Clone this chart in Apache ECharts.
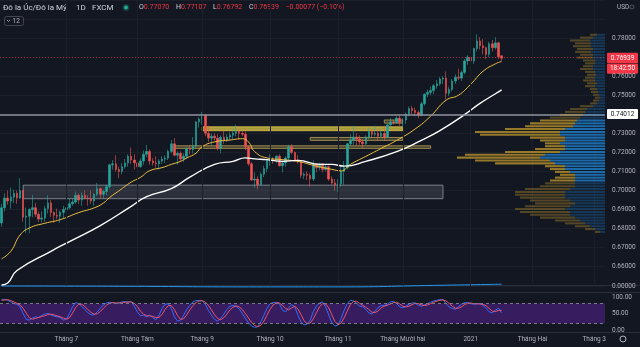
<!DOCTYPE html>
<html><head><meta charset="utf-8">
<script src="https://cdn.jsdelivr.net/npm/echarts@6/dist/echarts.min.js"></script>
<style>html,body{margin:0;padding:0;background:#131722;overflow:hidden}#c{width:640px;height:347px}</style>
</head><body><div id="c"></div>
<script>
// ---------------- DATA ----------------
const firstDay = '2020-06-02';
const barCount = 196;               // visible slots incl. future space
const holidays = ['2020-12-25', '2021-01-01'];
const tickMonths = ['2020-07','2020-08','2020-09','2020-10','2020-11','2020-12','2021-01','2021-02','2021-03'];
const tickLabels = ['Tháng 7','Tháng Tám','Tháng 9','Tháng 10','Tháng 11','Tháng Mười hai','2021','Tháng Hai','Tháng 3'];
const priceTicks = [0.66,0.67,0.68,0.69,0.70,0.71,0.72,0.73,0.75,0.76,0.78];
const stochTicks = [0,50,100];

const opens = [0.6830,0.6910,0.6960,0.6945,0.6965,0.6985,0.6960,0.7000,0.6860,0.6865,0.6900,0.6910,0.6875,0.6850,0.6855,0.6905,0.6935,0.6885,0.6870,0.6865,0.6885,
0.6900,0.6910,0.6930,0.6940,0.6975,0.6950,0.6975,0.6960,0.6955,0.6945,0.6980,0.7010,0.6980,0.6995,0.7020,0.7135,0.7140,0.7110,0.7100,0.7125,0.7145,0.7180,0.7160,
0.7145,0.7125,0.7155,0.7190,0.7205,0.7155,0.7145,0.7140,0.7155,0.7165,0.7170,0.7205,0.7245,0.7185,0.7195,0.7165,0.7180,0.7220,0.7215,0.7235,0.7360,
0.7375,0.7395,0.7300,0.7275,0.7285,0.7275,0.7220,0.7280,0.7260,0.7280,0.7290,0.7300,0.7310,0.7300,0.7295,0.7230,0.7140,0.7055,0.7060,0.7030,0.7085,0.7115,
0.7160,0.7165,0.7160,0.7180,0.7130,0.7145,0.7170,0.7230,0.7200,0.7160,0.7150,0.7080,0.7085,0.7080,0.7060,0.7140,0.7120,0.7140,0.7110,0.7125,0.7060,0.7040,
0.7030,0.7035,0.7100,0.7120,0.7245,0.7265,0.7280,0.7270,0.7255,0.7245,0.7280,0.7310,0.7295,0.7300,0.7285,0.7300,0.7280,0.7345,0.7360,0.7355,0.7380,
0.7355,0.7370,0.7400,0.7430,0.7420,0.7410,0.7395,0.7455,0.7505,0.7515,0.7525,0.7550,0.7560,0.7585,0.7590,0.7510,0.7530,0.7575,0.7595,0.7590,0.7620,0.7680,
0.7700,0.7680,0.7745,0.7785,0.7760,0.7750,0.7715,0.7770,0.7750,0.7775,0.77070];
const highs = [0.6930,0.6985,0.7000,0.7015,0.7005,0.7000,0.7064,0.7000,0.6910,0.6905,0.6976,0.6935,0.6890,0.6890,0.6920,0.6975,0.6950,0.6890,0.6905,0.6895,0.6920,
0.6935,0.6960,0.6955,0.6995,0.6985,0.6990,0.7000,0.6975,0.7000,0.6985,0.7040,0.7015,0.7005,0.7030,0.7140,0.7160,0.7185,0.7125,0.7145,0.7165,0.7190,0.7225,0.7190,
0.7165,0.7170,0.7210,0.7240,0.7215,0.7170,0.7180,0.7165,0.7180,0.7185,0.7215,0.7265,0.7275,0.7205,0.7205,0.7195,0.7230,0.7240,0.7280,0.7365,0.7385,
0.7413,0.7400,0.7340,0.7300,0.7300,0.7295,0.7290,0.7315,0.7295,0.7305,0.7320,0.7345,0.7320,0.7315,0.7310,0.7235,0.7150,0.7095,0.7075,0.7095,0.7130,0.7165,
0.7190,0.7175,0.7185,0.7190,0.7160,0.7180,0.7240,0.7243,0.7205,0.7185,0.7160,0.7095,0.7100,0.7090,0.7158,0.7145,0.7145,0.7145,0.7135,0.7130,0.7075,0.7060,
0.7060,0.7125,0.7155,0.7250,0.7295,0.7340,0.7300,0.7290,0.7270,0.7290,0.7330,0.7320,0.7340,0.7320,0.7320,0.7340,0.7350,0.7380,0.7370,0.7390,0.7395,
0.7380,0.7410,0.7440,0.7445,0.7435,0.7420,0.7465,0.7510,0.7530,0.7545,0.7560,0.7580,0.7595,0.7600,0.7625,0.7545,0.7585,0.7610,0.7640,0.7630,0.7690,0.7710,
0.7745,0.7750,0.7820,0.7805,0.7795,0.7755,0.7780,0.7790,0.7805,0.7780,0.77107];
const lows = [0.6810,0.6890,0.6925,0.6905,0.6935,0.6930,0.6955,0.6835,0.6778,0.6776,0.6860,0.6860,0.6835,0.6833,0.6835,0.6880,0.6860,0.6830,0.6850,0.6830,0.6855,
0.6875,0.6900,0.6920,0.6930,0.6930,0.6920,0.6955,0.6920,0.6930,0.6920,0.6970,0.6960,0.6960,0.6975,0.7010,0.7110,0.7100,0.7065,0.7085,0.7115,0.7125,0.7140,0.7110,
0.7110,0.7120,0.7135,0.7175,0.7135,0.7130,0.7120,0.7110,0.7140,0.7145,0.7160,0.7195,0.7180,0.7135,0.7150,0.7150,0.7165,0.7190,0.7195,0.7225,0.7330,
0.7345,0.7285,0.7255,0.7240,0.7260,0.7210,0.7195,0.7245,0.7255,0.7265,0.7270,0.7285,0.7265,0.7285,0.7210,0.7130,0.7050,0.7015,0.7006,0.7025,0.7070,0.7095,
0.7130,0.7140,0.7145,0.7125,0.7095,0.7125,0.7160,0.7190,0.7150,0.7140,0.7065,0.7060,0.7055,0.7020,0.7050,0.7095,0.7105,0.7095,0.7100,0.7050,0.7030,0.7000,
0.6991,0.7020,0.7030,0.7110,0.7235,0.7240,0.7235,0.7240,0.7220,0.7240,0.7270,0.7280,0.7285,0.7265,0.7280,0.7260,0.7275,0.7335,0.7345,0.7350,0.7340,
0.7330,0.7350,0.7390,0.7400,0.7390,0.7380,0.7390,0.7445,0.7490,0.7500,0.7505,0.7535,0.7550,0.7560,0.7478,0.7495,0.7520,0.7560,0.7580,0.7575,0.7610,0.7660,
0.7640,0.7665,0.7730,0.7740,0.7715,0.7690,0.7700,0.7730,0.7740,0.7690,0.76792];
const closes = [0.6910,0.6960,0.6945,0.6965,0.6985,0.6960,0.7000,0.6860,0.6865,0.6900,0.6910,0.6875,0.6850,0.6855,0.6905,0.6935,0.6885,0.6870,0.6865,0.6885,0.6900,
0.6910,0.6930,0.6940,0.6975,0.6950,0.6975,0.6960,0.6955,0.6945,0.6980,0.7010,0.6980,0.6995,0.7020,0.7135,0.7140,0.7110,0.7100,0.7125,0.7145,0.7180,0.7160,0.7145,
0.7125,0.7155,0.7190,0.7205,0.7155,0.7145,0.7140,0.7155,0.7165,0.7170,0.7205,0.7245,0.7185,0.7195,0.7165,0.7180,0.7220,0.7215,0.7235,0.7360,0.7375,
0.7395,0.7300,0.7275,0.7285,0.7275,0.7220,0.7280,0.7260,0.7280,0.7290,0.7300,0.7310,0.7300,0.7295,0.7230,0.7140,0.7055,0.7060,0.7030,0.7085,0.7115,0.7160,
0.7165,0.7160,0.7180,0.7130,0.7145,0.7170,0.7230,0.7200,0.7160,0.7150,0.7080,0.7085,0.7080,0.7060,0.7140,0.7120,0.7140,0.7110,0.7125,0.7060,0.7040,0.7030,
0.7035,0.7100,0.7120,0.7245,0.7265,0.7280,0.7270,0.7255,0.7245,0.7280,0.7310,0.7295,0.7300,0.7285,0.7300,0.7280,0.7345,0.7360,0.7355,0.7380,0.7355,
0.7370,0.7400,0.7430,0.7420,0.7410,0.7395,0.7455,0.7505,0.7515,0.7525,0.7550,0.7560,0.7585,0.7590,0.7510,0.7530,0.7575,0.7595,0.7590,0.7620,0.7680,0.7700,
0.7680,0.7745,0.7785,0.7760,0.7750,0.7715,0.7770,0.7750,0.7775,0.77016,0.76939];

// moving averages: [bar index, value]
const maFast = [[0,0.6641],[3,0.6681],[6,0.6766],[9,0.6803],[14,0.6828],[19,0.6847],[25,0.6884],[30,0.6909],[33,0.6934],[35,0.6963],[38,0.6998],[42,0.7044],[45,0.7069],[48,0.7104],[52,0.7120],[55,0.7137],[58,0.7153],[60,0.7171],[63,0.7196],[65,0.7230],[69,0.7255],[74,0.7265],[78,0.7272],[80,0.7255],[82,0.7204],[86,0.7171],[91,0.7162],[96,0.7153],[102,0.7128],[107,0.7111],[110,0.7103],[113,0.7137],[118,0.7179],[123,0.7221],[128,0.7263],[134,0.7323],[139,0.7390],[144,0.7474],[148,0.7500],[152,0.7558],[156,0.7626],[160,0.7665],[162,0.7677]];
const maSlow = [[0,0.6504],[2,0.6514],[5,0.6580],[16,0.6681],[22,0.6732],[32,0.6816],[42,0.6917],[47,0.6968],[55,0.7010],[61,0.7070],[69,0.7137],[75,0.7153],[79,0.7171],[82,0.7166],[86,0.7162],[91,0.7153],[96,0.7158],[103,0.7137],[107,0.7137],[111,0.7128],[118,0.7153],[128,0.7204],[136,0.7263],[142,0.7314],[150,0.7398],[155,0.7457],[160,0.7508],[162,0.7528]];

// zones: [startBar, endBar, lowPrice, highPrice]
const grayZone = [7, 143, 0.6957, 0.7028];
const yellowZones = [[65,130,0.7314,0.7334],[56,139,0.72213,0.72344],[100,130,0.72633,0.72785],[124,130,0.7354,0.7370]];
const levelLine = 0.74012;

// volume profile rows: bottom price, up volume, down volume, value area flag
const vpRowBottom = [0.6775,0.6790,0.6805,0.6820,0.6835,0.6850,0.6865,0.6880,0.6895,0.6910,0.6925,0.6940,0.6955,0.6970,0.6985,0.7000,0.7015,0.7030,0.7045,0.7060,0.7075,0.7090,0.7105,0.7120,0.7135,0.7150,0.7165,0.7180,0.7195,0.7210,0.7225,0.7240,0.7255,0.7270,0.7285,0.7300,0.7315,0.7330,0.7345,0.7360,0.7375,0.7390,0.7405,0.7420,0.7435,0.7450,0.7465,0.7480,0.7495,0.7510,0.7525,0.7540,0.7555,0.7570,0.7585,0.7600,0.7615,0.7630,0.7645,0.7660,0.7675,0.7690,0.7705,0.7720,0.7735,0.7750,0.7765,0.7780,0.7795,0.7810];
const vpUp   = [5,10,15,20,25,30,35,35,40,35,30,35,40,40,40,35,30,30,30,30,30,35,40,40,50,55,65,60,45,40,40,45,40,40,45,45,40,32,30,28,25,22,20,18,12,8,6,5,6,7,8,10,8,10,10,9,10,12,12,10,10,12,12,14,12,14,14,15,12,8];
const vpDown = [5,10,15,20,25,35,40,50,50,45,40,40,45,50,50,45,35,30,25,20,15,15,15,20,60,75,83,80,55,30,20,15,25,35,80,85,60,48,45,37,30,23,20,17,13,7,6,5,6,7,7,10,10,12,10,9,10,13,10,10,12,16,13,16,16,18,16,20,13,7];
const vpValueArea = [0,0,0,0,0,0,0,0,0,0,0,0,0,0,0,0,0,0,1,1,1,1,1,1,1,1,1,1,1,1,1,1,1,1,1,1,1,1,1,1,0,0,0,0,0,0,0,0,0,0,0,0,0,0,0,0,0,0,0,0,0,0,0,0,0,0,0,0,0,0];

const volMA = [[0,0],[40,-0.1],[80,-0.3],[110,-0.3],[140,0.2],[162,0.6]];

const stochK = [92,93,90,85,80,78,70,50,32,30,36,40,38,44,48,50,46,42,40,38,30,32,50,70,83,80,72,62,52,46,46,55,66,76,82,84,83,80,82,85,86,84,86,72,55,43,45,40,45,38,31,45,65,78,80,65,40,27,30,45,62,75,85,89,89,88,78,60,45,32,27,35,48,62,72,74,72,64,50,35,22,12,8,10,25,45,65,80,83,84,80,60,55,68,77,70,45,25,15,18,30,55,72,82,85,70,45,22,12,15,35,60,80,90,88,82,72,72,62,52,48,58,68,74,74,78,85,87,80,70,67,72,78,82,82,75,72,76,80,84,88,90,92,92,80,70,65,63,70,78,83,83,80,78,80,80,75,65,55,52,60,66,52];
const stochD = [90,91,92,89,85,81,76,66,51,37,33,35,38,41,43,47,48,46,43,40,36,33,37,51,68,78,78,71,62,53,48,49,56,66,75,81,83,82,82,82,84,85,85,81,71,57,48,43,43,41,38,38,47,63,74,74,62,44,32,34,46,61,74,83,88,89,85,75,61,46,35,31,37,48,61,69,73,70,62,50,36,23,14,10,14,27,45,63,76,82,82,75,65,61,67,72,64,47,28,19,21,34,52,70,80,79,67,46,26,16,21,37,58,77,86,87,81,75,69,62,54,53,58,67,72,75,79,83,84,79,72,70,72,77,81,80,76,74,76,80,84,87,90,91,88,81,72,66,66,70,77,81,82,80,79,79,78,73,65,57,56,59,59];

// ---------------- BUILD ----------------
function buildDates(){
  const out=[]; const d=new Date(firstDay+'T00:00:00Z');
  while(out.length<barCount){
    const wd=d.getUTCDay(); const s=d.toISOString().slice(0,10);
    if(wd!==0&&wd!==6&&holidays.indexOf(s)<0) out.push(s);
    d.setUTCDate(d.getUTCDate()+1);
  }
  return out;
}
const dates = buildDates();
const monthStart = {};
dates.forEach((s,i)=>{ if(i>0 && s.slice(0,7)!==dates[i-1].slice(0,7)){ const k=tickMonths.indexOf(s.slice(0,7)); if(k>=0) monthStart[i]=tickLabels[k]; }});
const monthIdx = Object.keys(monthStart).map(Number);
const ohlc = closes.map((c,i)=>[opens[i], c, lows[i], highs[i]]);
const vpData = vpRowBottom.map((p,i)=>[vpUp[i], p, vpDown[i], vpValueArea[i]]);
const rowH = 0.0015;

const FONT = 'Roboto, "Noto Sans", sans-serif';
const txt = '#b2b5be';
const gridLine = '#1b1f2a';
const up = '#26a69a', dn = '#ef5350';

const chart = echarts.init(document.getElementById('c'), null, {width:640, height:347});
const vLines = monthIdx.map(i=>({xAxis: dates[i]}));

const option = {
  animation:false,
  backgroundColor:'#131722',
  grid:[
    {left:0, right:35, top:-10.5, height:296.25},
    {left:0, right:35, top:283, height:6},
    {left:0, right:35, top:297, height:33},
    {left:0, right:35, top:-10.5, height:296.25}
  ],
  xAxis:[
    {type:'category', gridIndex:0, data:dates, boundaryGap:true, show:false},
    {type:'category', gridIndex:1, data:dates, boundaryGap:true, show:false},
    {type:'category', gridIndex:2, data:dates, boundaryGap:true,
      axisLine:{show:false}, axisTick:{show:false}, splitLine:{show:false},
      axisLabel:{color:txt, fontSize:6.5, fontFamily:FONT, margin:6,
        interval:(i)=>monthStart[i]!==undefined, formatter:(v,i)=>monthStart[i]||''}},
    {type:'value', gridIndex:3, inverse:true, min:0, max:605, show:false}
  ],
  yAxis:[
    {type:'value', gridIndex:0, position:'right', min:0.65, max:0.80, interval:0.01,
      axisLine:{show:false}, axisTick:{show:false},
      splitLine:{show:true, lineStyle:{color:gridLine, width:1}},
      axisLabel:{color:txt, fontSize:6.5, fontFamily:FONT, margin:7, showMinLabel:false, showMaxLabel:false,
        formatter:(v)=>{ const r=Math.round(v*100)/100; return priceTicks.some(t=>Math.abs(t-r)<1e-6)?r.toFixed(5):''; }}},
    {type:'value', gridIndex:1, position:'right', min:-1, max:1, interval:1,
      axisLine:{show:false}, axisTick:{show:false}, splitLine:{show:false},
      axisLabel:{color:txt, fontSize:6.5, fontFamily:FONT, margin:7, formatter:(v)=>v===0?'0.00000':''}},
    {type:'value', gridIndex:2, position:'right', min:0, max:100, interval:50,
      axisLine:{show:false}, axisTick:{show:false}, splitLine:{show:false},
      axisLabel:{color:txt, fontSize:6.5, fontFamily:FONT, margin:7, formatter:(v)=>stochTicks.indexOf(v)>=0?v.toFixed(2):''}},
    {type:'value', gridIndex:3, min:0.65, max:0.80, show:false}
  ],
  series:[
    {type:'candlestick', xAxisIndex:0, yAxisIndex:0, data:ohlc, barWidth:2, z:3,
      itemStyle:{color:up, color0:dn, borderColor:up, borderColor0:dn, borderWidth:0.6},
      markArea:{silent:true, z:2, data:[
        [{coord:[dates[grayZone[0]], grayZone[2]], itemStyle:{color:'rgba(120,123,134,0.25)', borderColor:'#7d818b', borderWidth:1}}, {coord:[dates[grayZone[1]], grayZone[3]]}],
        ...yellowZones.map((z,k)=>[{coord:[dates[z[0]], z[2]], itemStyle:{color: k===0?'rgba(196,178,62,0.85)':'rgba(150,135,70,0.35)', borderColor: k===0?'#c9b54a':'#9c8c4e', borderWidth:1}}, {coord:[dates[z[1]], z[3]]}])
      ]},
      markLine:{silent:true, symbol:['none','none'], label:{show:false}, animation:false, data:[
        ...vLines.map(v=>Object.assign({lineStyle:{color:gridLine, width:1, type:'solid'}}, v)),
        {yAxis:levelLine, lineStyle:{color:'#8f939c', width:1.6, type:'solid'}},
        {yAxis:closes[closes.length-1], lineStyle:{color:'#f23645', width:1, type:[1,2], opacity:0.6}}
      ]}
    },
    {type:'line', xAxisIndex:0, yAxisIndex:0, data:maFast, smooth:0.5, showSymbol:false, z:4,
      lineStyle:{color:'#f0c040', width:1}},
    {type:'line', xAxisIndex:0, yAxisIndex:0, data:maSlow, smooth:0.5, showSymbol:false, z:4,
      lineStyle:{color:'#ffffff', width:1.4}},
    {type:'custom', xAxisIndex:3, yAxisIndex:3, data:vpData, z:5, silent:true,
      renderItem:(params, api)=>{
        const u=api.value(0), p=api.value(1), d=api.value(2), va=api.value(3);
        const yb=api.coord([0,p])[1], yt=api.coord([0,p+rowH])[1];
        const xr=api.coord([0,p])[0], xu=api.coord([u,p])[0], xa=api.coord([u+d,p])[0];
        const h=Math.max(0.5,yb-yt-0.8);
        return {type:'group', children:[
          {type:'rect', shape:{x:xu, y:yt+0.4, width:xr-xu, height:h}, style:{fill: va? 'rgba(33,150,243,0.65)':'rgba(33,150,243,0.25)'}},
          {type:'rect', shape:{x:xa, y:yt+0.4, width:xu-xa, height:h}, style:{fill: va? 'rgba(230,180,45,0.62)':'rgba(230,180,45,0.3)'}}
        ]};
      }},
    {type:'line', xAxisIndex:1, yAxisIndex:1, data:volMA, smooth:true, showSymbol:false,
      lineStyle:{color:'#2196f3', width:1}},
    {type:'line', xAxisIndex:2, yAxisIndex:2, data:stochK, showSymbol:false, z:4,
      lineStyle:{color:'#2f6bff', width:1},
      markArea:{silent:true, data:[[{yAxis:20, itemStyle:{color:'rgba(110,40,190,0.4)'}},{yAxis:80}]]},
      markLine:{silent:true, symbol:['none','none'], label:{show:false}, data:[
        {yAxis:80, lineStyle:{color:'#787b86', type:[3,3], width:1}},
        {yAxis:20, lineStyle:{color:'#787b86', type:[3,3], width:1}}
      ]}},
    {type:'line', xAxisIndex:2, yAxisIndex:2, data:stochD, showSymbol:false, z:4,
      lineStyle:{color:'#e9546b', width:1}}
  ]
};
chart.setOption(option);

// labels on the price scale and header
const n = closes.length-1;
const yLast = chart.convertToPixel({yAxisIndex:0}, closes[n]);
const yLevel = chart.convertToPixel({yAxisIndex:0}, levelLine);
const f5 = v=>v.toFixed(5);
const chg = closes[n]-closes[n-1];
chart.setOption({graphic:[
  {type:'line', shape:{x1:0,y1:285.5,x2:640,y2:285.5}, style:{stroke:'#2a2e39', lineWidth:1}},
  {type:'line', shape:{x1:0,y1:292.5,x2:640,y2:292.5}, style:{stroke:'#2a2e39', lineWidth:1}},
  {type:'line', shape:{x1:0,y1:332.5,x2:640,y2:332.5}, style:{stroke:'#2a2e39', lineWidth:1}},
  {type:'rect', shape:{x:607, y:yLast-5.5, width:31, height:10.5, r:1}, style:{fill:'#f23645'}},
  {type:'text', x:622.5, y:yLast, style:{text:f5(closes[n]), fill:'#fff', font:'6.5px '+FONT, align:'center', verticalAlign:'middle'}},
  {type:'rect', shape:{x:607, y:yLast+5.5, width:31, height:10, r:1}, style:{fill:'#f23645'}},
  {type:'text', x:622.5, y:yLast+10.5, style:{text:'18:42:50', fill:'#fff', font:'6.5px '+FONT, align:'center', verticalAlign:'middle'}},
  {type:'rect', shape:{x:607, y:yLevel-5, width:31, height:10, r:1}, style:{fill:'#ffffff'}},
  {type:'text', x:622.5, y:yLevel, style:{text:f5(levelLine), fill:'#131722', font:'6.5px '+FONT, align:'center', verticalAlign:'middle'}},
  {type:'text', x:617, y:7, style:{text:'USD', fill:txt, font:'6.5px '+FONT, verticalAlign:'middle'}},
  {type:'circle', shape:{cx:632, cy:7, r:2}, style:{fill:'none', stroke:'#787b86', lineWidth:0.6}},
  {type:'text', x:3, y:7.5, style:{text:'Đô la Úc/Đô la Mỹ', fill:'#d1d4dc', font:'8px '+FONT, verticalAlign:'middle'}},
  {type:'text', x:76, y:7.5, style:{text:'1D', fill:'#d1d4dc', font:'8px '+FONT, verticalAlign:'middle'}},
  {type:'text', x:92, y:7.5, style:{text:'FXCM', fill:'#d1d4dc', font:'8px '+FONT, verticalAlign:'middle'}},
  {type:'circle', shape:{cx:126, cy:7.5, r:3.5}, style:{fill:'rgba(34,171,148,0.25)'}},
  {type:'circle', shape:{cx:126, cy:7.5, r:2}, style:{fill:'#22ab94'}},
  {type:'text', x:139, y:7.5, style:{
    text:'{l|O}{v|'+f5(opens[n])+'}  {l|H}{v|'+f5(highs[n])+'}  {l|L}{v|'+f5(lows[n])+'}  {l|C}{v|'+f5(closes[n])+'}  {v|'+(chg<0?'−':'+')+Math.abs(chg).toFixed(5)+' ('+(chg<0?'−':'+')+Math.abs(chg/closes[n-1]*100).toFixed(2)+'%)}',
    verticalAlign:'middle',
    rich:{l:{fill:'#d1d4dc', font:'7px '+FONT}, v:{fill:'#f23645', font:'7px '+FONT}}}},
  {type:'rect', shape:{x:4.5, y:16.5, width:19, height:9, r:2}, style:{fill:'none', stroke:'#434651', lineWidth:1}},
  {type:'polyline', shape:{points:[[7,20],[8.5,21.5],[10,20]]}, style:{stroke:'#b2b5be', lineWidth:0.8, fill:'none'}},
  {type:'text', x:12.5, y:21, style:{text:'12', fill:'#b2b5be', font:'6.5px '+FONT, verticalAlign:'middle'}},
  {type:'circle', shape:{cx:623, cy:339, r:3}, style:{fill:'none', stroke:'#b2b5be', lineWidth:1}}
]});
</script>
</body></html>
